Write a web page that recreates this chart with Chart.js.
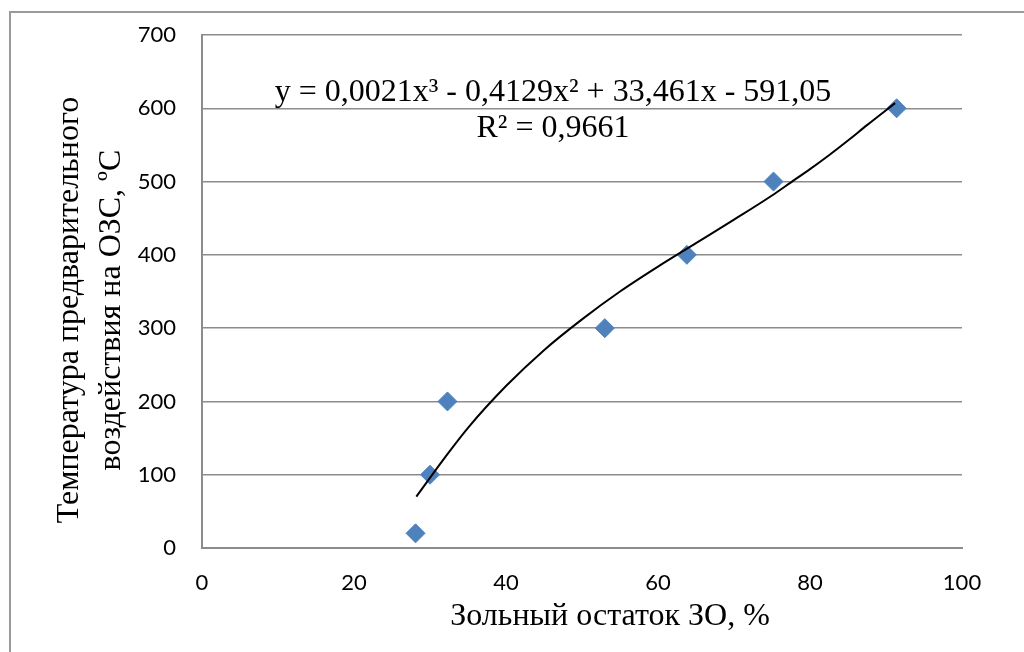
<!DOCTYPE html>
<html>
<head>
<meta charset="utf-8">
<script src="https://cdn.jsdelivr.net/npm/chart.js@4"></script>
<style>
  body { margin: 0; background: #fff; }
</style>
</head>
<body>
<canvas id="chart" width="1024" height="652"></canvas>
<script>
// measured points
const ashX = [28.1, 30.0, 32.3, 53.0, 63.8, 75.2, 91.4];
const tempY = [20, 100, 200, 300, 400, 500, 600];

// trendline
const trendX = [28.2, 32, 35, 40, 45, 50, 55, 60, 65, 70, 75, 77.5, 80, 82.5, 85, 87.5, 91.2];
const trendY = [70, 124, 164, 221, 270, 312, 350, 384, 416, 448, 481, 499, 517, 536, 556, 577, 607];

const xTitle = "Зольный остаток ЗО, %";
const yTitle = ["Температура предварительного", "воздействия на ОЗС, ºС"];
const eqLine = "y = 0,0021x³ - 0,4129x² + 33,461x - 591,05";
const r2Line = "R² = 0,9661";

const gridGray = "#8c8c8c";

const extras = {
  id: "extras",
  afterDraw(chart) {
    const ctx = chart.ctx;
    ctx.save();
    // outer frame
    ctx.strokeStyle = "#9a9a9a";
    ctx.lineWidth = 2;
    ctx.strokeRect(10, 12, 1200, 1000);

    ctx.fillStyle = "#000";
    ctx.font = "32px 'Liberation Serif'";
    ctx.textAlign = "center";
    ctx.textBaseline = "middle";
    ctx.fillText(xTitle, 610, 617);

    ctx.fillText(eqLine, 553, 93);
    ctx.fillText(r2Line, 553, 129);

    ctx.translate(90, 310);
    ctx.rotate(-Math.PI / 2);
    ctx.fillText(yTitle[0], 0, -20);
    ctx.fillText(yTitle[1], 0, 22);
    ctx.restore();
  }
};

new Chart(document.getElementById("chart").getContext("2d"), {
  type: "scatter",
  data: {
    datasets: [
      {
        data: ashX.map((x, i) => ({ x: x, y: tempY[i] })),
        pointStyle: "rectRot",
        pointRadius: 9.5,
        pointBackgroundColor: "#4f81bd",
        pointBorderColor: "#4f81bd",
        pointBorderWidth: 1,
        showLine: false,
        order: 1
      },
      {
        data: trendX.map((x, i) => ({ x: x, y: trendY[i] })),
        showLine: true,
        borderColor: "#000",
        borderWidth: 2,
        pointRadius: 0,
        cubicInterpolationMode: "monotone",
        order: 0
      }
    ]
  },
  options: {
    responsive: false,
    animation: false,
    layout: { padding: { top: 35, right: 62, left: 0, bottom: 0 } },
    plugins: { legend: { display: false }, tooltip: { enabled: false } },
    scales: {
      x: {
        type: "linear",
        min: 0,
        max: 100,
        afterFit(s) { s.height = 104; s.paddingLeft = 0; s.paddingRight = 0; },
        ticks: { stepSize: 20, padding: 22, color: "#000", font: { family: "Lato", size: 22 } },
        grid: { display: false, drawTicks: false },
        border: { display: true, color: gridGray, width: 2 }
      },
      y: {
        min: 0,
        max: 700,
        afterFit(s) { s.width = 202; s.paddingTop = 0; s.paddingBottom = 0; },
        ticks: { stepSize: 100, padding: 26, color: "#000", font: { family: "Lato", size: 22 } },
        grid: { color: gridGray, lineWidth: 1.5, drawTicks: false },
        border: { display: true, color: gridGray, width: 2 }
      }
    }
  },
  plugins: [extras]
});
</script>
</body>
</html>
